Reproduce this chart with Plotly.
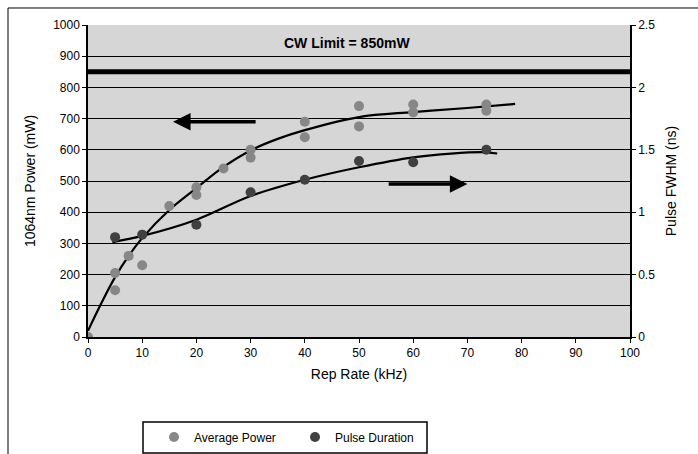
import plotly.graph_objects as go

# Measured data
power_x = [0, 5, 5, 7.5, 10, 15, 20, 20, 25, 30, 30, 40, 40, 50, 50, 60, 60, 73.5, 73.5]
power_y = [0, 150, 205, 260, 230, 420, 480, 455, 540, 600, 575, 690, 640, 740, 675, 745, 720, 745, 725]

pulse_x = [5, 10, 20, 30, 40, 50, 60, 73.5]
pulse_y = [0.80, 0.82, 0.90, 1.16, 1.26, 1.41, 1.40, 1.50]

# Trend lines
ptrend_x = [0, 2.5, 5, 7.5, 10, 15, 20, 25, 30, 35, 40, 50, 60, 70, 78.8]
ptrend_y = [20, 110, 192, 260, 317, 407, 477, 545, 598, 635, 663, 705, 721, 734, 747]

dtrend_x = [4.5, 10, 20, 30, 40, 50, 60, 67, 73.5, 75.5]
dtrend_y = [0.76, 0.81, 0.94, 1.13, 1.26, 1.36, 1.44, 1.47, 1.48, 1.47]

cw_limit = 850
x_ticks = list(range(0, 101, 10))
y_ticks = list(range(0, 1001, 100))
y2_ticks = [0, 0.5, 1, 1.5, 2, 2.5]
y2_labels = ["0", "0.5", "1", "1.5", "2", "2.5"]

FONT = "Liberation Sans, Arial, sans-serif"

fig = go.Figure()

fig.add_trace(go.Scatter(x=ptrend_x, y=ptrend_y, mode="lines",
                         line=dict(color="black", width=2.2, shape="spline"),
                         showlegend=False, hoverinfo="skip"))
fig.add_trace(go.Scatter(x=dtrend_x, y=dtrend_y, mode="lines", yaxis="y2",
                         line=dict(color="black", width=2.2, shape="spline"),
                         showlegend=False, hoverinfo="skip"))
fig.add_trace(go.Scatter(x=power_x, y=power_y, mode="markers", name="Average Power",
                         marker=dict(color="#878787", size=10)))
fig.add_trace(go.Scatter(x=pulse_x, y=pulse_y, mode="markers", name="Pulse Duration",
                         yaxis="y2", marker=dict(color="#404040", size=10)))

# CW limit line
fig.add_trace(go.Scatter(x=[0, 100], y=[cw_limit, cw_limit], mode="lines",
                         line=dict(color="black", width=5),
                         showlegend=False, hoverinfo="skip"))

fig.add_annotation(x=47.8, y=942, text="<b>CW Limit = 850mW</b>", showarrow=False,
                   font=dict(size=14, color="black", family=FONT))

# Arrows
fig.add_annotation(x=15.7, y=690, ax=31.2, ay=690, xref="x", yref="y", axref="x", ayref="y",
                   text="", showarrow=True, arrowhead=2, arrowsize=1.0, arrowwidth=3.5,
                   arrowcolor="black")
fig.add_annotation(x=70, y=490, ax=55.2, ay=490, xref="x", yref="y", axref="x", ayref="y",
                   text="", showarrow=True, arrowhead=2, arrowsize=1.0, arrowwidth=3.5,
                   arrowcolor="black")

# Outer border (left/top visible)
fig.add_shape(type="rect", xref="paper", yref="paper",
              x0=-0.1476, y0=-0.6, x1=1.3, y1=1.0545,
              line=dict(color="black", width=1), fillcolor="rgba(0,0,0,0)", layer="above")

# Legend box
fig.add_shape(type="rect", xref="paper", yref="paper",
              x0=(143 - 88) / 542, x1=(427 - 88) / 542,
              y0=(337 - 453) / 312, y1=(337 - 422) / 312,
              line=dict(color="black", width=1.5), fillcolor="white", layer="below")

fig.update_layout(
    width=698, height=454,
    margin=dict(l=88, r=68, t=25, b=117),
    paper_bgcolor="white",
    plot_bgcolor="#d6d6d6",
    font=dict(family=FONT, size=12, color="black"),
    xaxis=dict(range=[0, 100], tickvals=x_ticks, showgrid=False, zeroline=False,
               showline=True, linecolor="black", linewidth=1.5,
               ticks="outside", ticklen=4, tickcolor="black",
               title=dict(text="Rep Rate (kHz)", font=dict(size=14), standoff=10)),
    yaxis=dict(range=[0, 1000], tickvals=y_ticks, showgrid=True, gridcolor="black",
               gridwidth=1.2, zeroline=False, showline=True, linecolor="black", linewidth=1.5,
               ticks="outside", ticklen=4, tickcolor="black",
               title=dict(text="1064nm Power (mW)", font=dict(size=14), standoff=14)),
    yaxis2=dict(range=[0, 2.5], tickvals=y2_ticks, ticktext=y2_labels, overlaying="y",
                side="right", showgrid=False, zeroline=False, showline=True,
                linecolor="black", linewidth=1.5, ticks="outside", ticklen=4,
                tickcolor="black",
                title=dict(text="Pulse FWHM (ns)", font=dict(size=14), standoff=12)),
    legend=dict(orientation="h", x=(154 - 88) / 542, xanchor="left",
                yref="container", y=(454 - 437) / 454, yanchor="middle",
                bgcolor="rgba(0,0,0,0)", borderwidth=0, entrywidth=96,
                font=dict(size=12), itemwidth=30),
    showlegend=True,
)

fig.write_html("out.html")
